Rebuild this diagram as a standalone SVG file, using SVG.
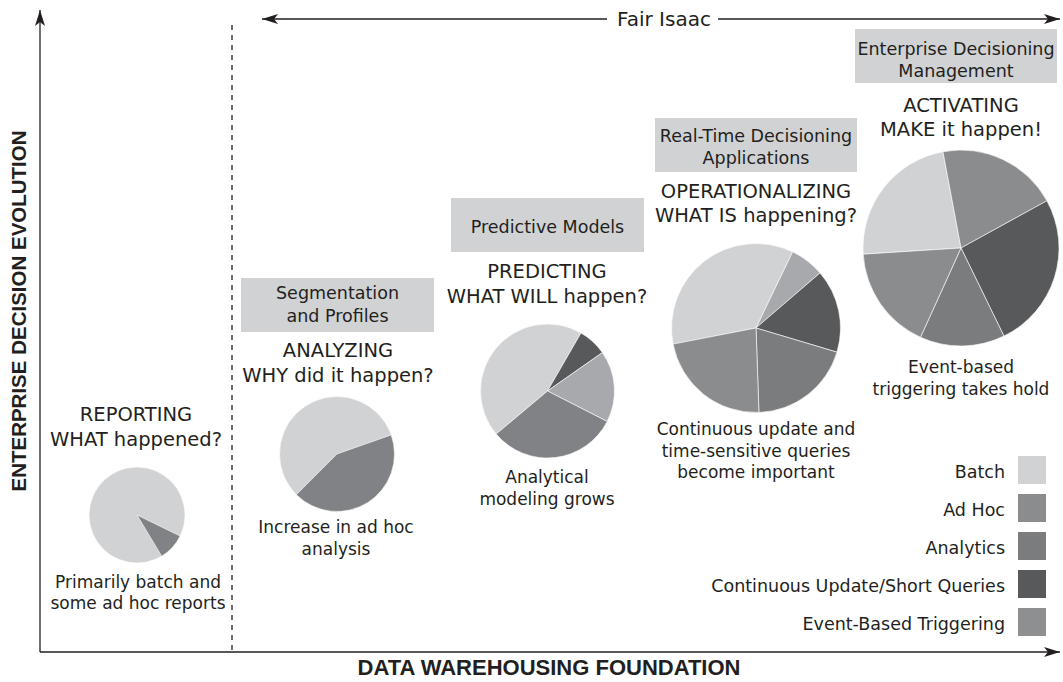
<svg xmlns="http://www.w3.org/2000/svg" width="1063" height="682" viewBox="0 0 1063 682">
<style>
text{font-family:"DejaVu Sans","Liberation Sans",sans-serif;fill:#231f20}
.t{font-size:19.5px;text-anchor:middle}
.b{font-size:17.5px;text-anchor:middle}
.c{font-size:17px;text-anchor:middle}
.l{font-size:17.5px;text-anchor:end}
.ax{font-family:"Liberation Sans",Arial,sans-serif;font-weight:bold;text-anchor:middle}
.box{fill:#d1d2d4}
.ln{stroke:#231f20;stroke-width:1.3;fill:none}
.s path,.s circle{stroke:#ffffff;stroke-width:0.6}
.bat{fill:#d1d2d4}.adh{fill:#8b8c8e}.ana{fill:#7b7c7e}.con{fill:#58595b}.evt{fill:#8e8f91}.lt{fill:#a7a9ac}.md{fill:#808285}
</style>
<defs>
<marker id="arr" markerUnits="userSpaceOnUse" markerWidth="16" markerHeight="10" refX="16" refY="5" orient="auto">
<path d="M0,0 L16,5 L0,10 L4,5 Z" fill="#231f20"/>
</marker>
</defs>
<g id="connectors">
<line class="ln" x1="40" y1="652" x2="40" y2="10" marker-end="url(#arr)"/>
<line class="ln" x1="40" y1="652" x2="1060" y2="652" marker-end="url(#arr)"/>
<line class="ln" x1="232" y1="25" x2="232" y2="652" stroke-dasharray="5 5"/>
<line class="ln" x1="607" y1="19" x2="262" y2="19" marker-end="url(#arr)"/>
<line class="ln" x1="718" y1="19" x2="1060" y2="19" marker-end="url(#arr)"/>
</g>
<g id="axis-labels">
<text class="ax" font-size="20.5" transform="translate(26,311) rotate(-90)">ENTERPRISE DECISION EVOLUTION</text>
<text class="ax" font-size="22" x="549" y="675">DATA WAREHOUSING FOUNDATION</text>
<text x="664" y="26" font-size="20" text-anchor="middle">Fair Isaac</text>
</g>
<g id="stage-reporting">
<text class="t" x="136" y="421">REPORTING</text>
<text class="t" x="136" y="446">WHAT happened?</text>
<g class="s">
<circle class="bat" cx="137" cy="515" r="48"/>
<path class="md" d="M137,515 L180.14,536.04 A48,48 0 0 1 161.72,556.15 Z"/>
</g>
<text class="c" x="138" y="588">Primarily batch and</text>
<text class="c" x="138" y="609">some ad hoc reports</text>
</g>
<g id="stage-analyzing">
<rect class="box" x="241" y="278" width="193" height="54"/>
<text class="b" x="337.5" y="299">Segmentation</text>
<text class="b" x="337.5" y="322">and Profiles</text>
<text class="t" x="338" y="357">ANALYZING</text>
<text class="t" x="338" y="382">WHY did it happen?</text>
<g class="s">
<circle class="bat" cx="337" cy="454" r="57.5"/>
<path class="md" d="M337,454 L391.23,434.9 A57.5,57.5 0 0 1 296.34,494.66 Z"/>
</g>
<text class="c" x="336" y="533">Increase in ad hoc</text>
<text class="c" x="336" y="555">analysis</text>
</g>
<g id="stage-predicting">
<rect class="box" x="451" y="198" width="193" height="54"/>
<text class="b" x="547.5" y="233">Predictive Models</text>
<text class="t" x="547" y="278">PREDICTING</text>
<text class="t" x="547" y="303">WHAT WILL happen?</text>
<g class="s">
<path class="bat" d="M547.5,391 L496.18,434.07 A67,67 0 0 1 581,332.98 Z"/>
<path class="con" d="M547.5,391 L581,332.98 A67,67 0 0 1 602.38,352.57 Z"/>
<path class="lt" d="M547.5,391 L602.38,352.57 A67,67 0 0 1 607.2,421.42 Z"/>
<path class="md" d="M547.5,391 L607.2,421.42 A67,67 0 0 1 496.18,434.07 Z"/>
</g>
<text class="c" x="547" y="483">Analytical</text>
<text class="c" x="547" y="505">modeling grows</text>
</g>
<g id="stage-operationalizing">
<rect class="box" x="655" y="118" width="202" height="54"/>
<text class="b" x="756" y="141.5">Real-Time Decisioning</text>
<text class="b" x="756" y="163.5">Applications</text>
<text class="t" x="756" y="198">OPERATIONALIZING</text>
<text class="t" x="756" y="222">WHAT IS happening?</text>
<g class="s">
<path class="bat" d="M756,328 L673.05,344.12 A84.5,84.5 0 0 1 792.65,251.86 Z"/>
<path class="lt" d="M756,328 L792.65,251.86 A84.5,84.5 0 0 1 820.06,272.9 Z"/>
<path class="con" d="M756,328 L820.06,272.9 A84.5,84.5 0 0 1 836.98,352.14 Z"/>
<path class="ana" d="M756,328 L836.98,352.14 A84.5,84.5 0 0 1 758.95,412.45 Z"/>
<path class="adh" d="M756,328 L758.95,412.45 A84.5,84.5 0 0 1 673.05,344.12 Z"/>
</g>
<text class="c" x="756" y="435">Continuous update and</text>
<text class="c" x="756" y="457">time-sensitive queries</text>
<text class="c" x="756" y="478">become important</text>
</g>
<g id="stage-activating">
<rect class="box" x="855" y="29" width="202" height="54"/>
<text class="b" x="956" y="55">Enterprise Decisioning</text>
<text class="b" x="956" y="77">Management</text>
<text class="t" x="961" y="112">ACTIVATING</text>
<text class="t" x="961" y="136">MAKE it happen!</text>
<g class="s">
<path class="bat" d="M961,248 L863.19,254.15 A98,98 0 0 1 942.97,151.68 Z"/>
<path class="adh" d="M961,248 L942.97,151.68 A98,98 0 0 1 1046.88,200.79 Z"/>
<path class="con" d="M961,248 L1046.88,200.79 A98,98 0 0 1 1003.96,336.08 Z"/>
<path class="ana" d="M961,248 L1003.96,336.08 A98,98 0 0 1 920.51,337.25 Z"/>
<path class="adh" d="M961,248 L920.51,337.25 A98,98 0 0 1 863.19,254.15 Z"/>
</g>
<text class="c" x="961" y="373">Event-based</text>
<text class="c" x="961" y="395">triggering takes hold</text>
</g>
<g id="legend">
<rect class="bat" x="1018" y="456" width="28" height="28"/>
<text class="l" x="1005" y="478">Batch</text>
<rect class="adh" x="1018" y="494" width="28" height="28"/>
<text class="l" x="1005" y="516">Ad Hoc</text>
<rect class="ana" x="1018" y="532" width="28" height="28"/>
<text class="l" x="1005" y="554">Analytics</text>
<rect class="con" x="1018" y="570" width="28" height="28"/>
<text class="l" x="1005" y="592">Continuous Update/Short Queries</text>
<rect class="evt" x="1018" y="608" width="28" height="28"/>
<text class="l" x="1005" y="630">Event-Based Triggering</text>
</g>
</svg>
